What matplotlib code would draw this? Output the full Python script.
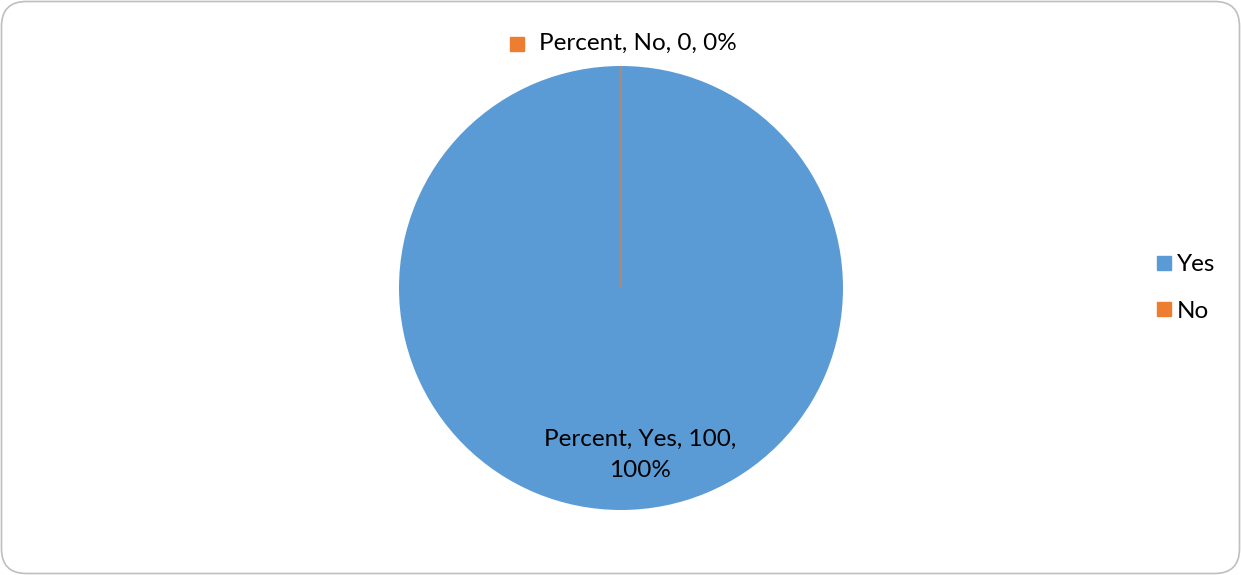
import matplotlib.pyplot as plt
from matplotlib.patches import FancyBboxPatch
from matplotlib.lines import Line2D

categories = ["Yes", "No"]
values = [100, 0]
percents = ["100%", "0%"]
series_name = "Percent"
colors = ["#5B9BD5", "#ED7D31"]

plt.rcParams['font.family'] = ['Lato', 'DejaVu Sans']

W, H = 1241, 575
fig = plt.figure(figsize=(W / 100, H / 100), dpi=100)

# rounded border
border = FancyBboxPatch((1.5 / W, 1.5 / H), (W - 3) / W, (H - 3) / H,
                        boxstyle="round,pad=0,rounding_size=0.02",
                        transform=fig.transFigure, facecolor="none",
                        edgecolor="#BFBFBF", linewidth=1.2, mutation_aspect=W / H,
                        zorder=10)
fig.patches.append(border)

cx, cy, r = 621, 287, 222
ax = fig.add_axes([(cx - r) / W, (cy - r) / H, 2 * r / W, 2 * r / H])
wedges, _ = ax.pie(values, colors=colors, startangle=90, counterclock=False,
                   radius=1, wedgeprops=dict(linewidth=0))
for w, c, v in zip(wedges, colors, values):
    if v == 0:
        w.set_edgecolor(c)
        w.set_linewidth(0.8)
ax.set_xlim(-1, 1)
ax.set_ylim(-1, 1)
ax.set_aspect('equal')
ax.axis('off')

FS = 17.5
# data labels
lbl_no = f"{series_name}, {categories[1]}, {values[1]}, {percents[1]}"
ax.text(0.077, 1.10, lbl_no, ha='center', va='center', fontsize=FS, color='black')
ax.plot([-0.47], [1.10], marker='s', markersize=9.5, color=colors[1], clip_on=False, linestyle='none')
lbl_yes = f"{series_name}, {categories[0]}, {values[0]},\n{percents[0]}"
ax.text(0.086, -0.75, lbl_yes, ha='center', va='center', fontsize=FS, color='black',
        linespacing=1.6)

handles = [Line2D([], [], marker='s', linestyle='none', markersize=9.5, color=c) for c in colors]
fig.legend(handles, categories, loc='center left', bbox_to_anchor=(1143 / W, (H - 288) / H),
           frameon=False, fontsize=FS, handlelength=0.7, handletextpad=0.2,
           labelspacing=1.05, borderpad=0)

fig.savefig("out.png", dpi=100)
